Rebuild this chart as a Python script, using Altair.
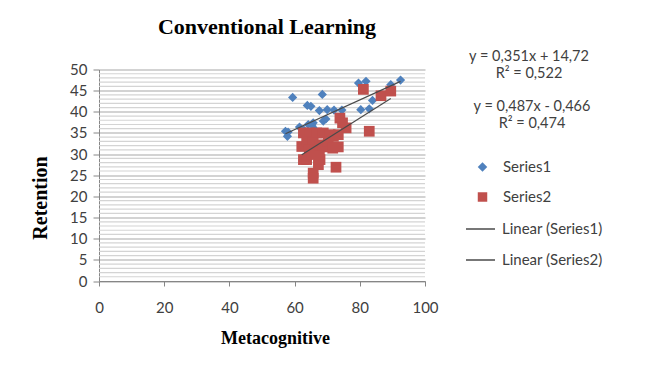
import altair as alt
import pandas as pd

# ---- data ----
s1_x = [57.2, 57.8, 59.4, 61.5, 62.7, 63.9, 65.0, 64.2, 65.7, 67.6, 68.5, 68.8, 69.6,
        70.0, 72.1, 74.5, 67.8, 66.0, 79.6, 81.9, 80.3, 82.9, 83.9, 89.5, 92.5, 65.3, 58.0]
s1_y = [35.4, 34.2, 43.4, 36.4, 35.8, 41.5, 41.3, 37.0, 37.4, 40.3, 44.1, 37.8, 38.3,
        40.5, 40.4, 40.4, 30.5, 36.0, 46.8, 47.2, 40.5, 40.7, 42.7, 46.4, 47.5, 36.9, 35.2]

s2_x = [62.2, 62.7, 63.7, 62.7, 64.7, 66.8, 68.8, 70.9, 63.7, 65.7, 67.8, 64.5, 66.8,
        68.8, 71.9, 70.3, 65.2, 67.8, 65.7, 65.7, 67.6, 67.3, 72.7, 71.7, 73.4, 73.9,
        74.7, 75.8, 73.4, 81.1, 82.9, 86.5, 89.5]
s2_y = [31.8, 28.7, 28.7, 35.0, 35.0, 35.0, 35.0, 34.6, 33.0, 32.6, 32.2, 31.0, 30.6,
        31.7, 34.2, 33.0, 29.9, 28.7, 25.5, 24.3, 29.5, 27.5, 26.9, 31.4, 31.7, 38.5,
        37.4, 36.2, 34.6, 45.3, 35.4, 43.8, 44.9]

point_series = ["Series1", "Series2"]
point_colors = ["#4F81BD", "#C0504D"]
point_shapes = ["diamond", "square"]
line_series = ["Linear (Series1)", "Linear (Series2)"]
line_colors = ["#4a4a4a", "#4a4a4a"]

trend_slopes = [0.351, 0.487]
trend_intercepts = [14.72, -0.466]
equation_texts = ["y = 0,351x + 14,72", "R² = 0,522", "y = 0,487x - 0,466", "R² = 0,474"]

x_ticks = [0, 20, 40, 60, 80, 100]
y_ticks = [0, 5, 10, 15, 20, 25, 30, 35, 40, 45, 50]
minor_grid = [v for v in range(0, 51) if v % 5 != 0]

title_text = "Conventional Learning"
x_title = "Metacognitive"
y_title = "Retention"

# ---- build tables ----
pts = pd.concat([
    pd.DataFrame({"x": s1_x, "y": s1_y, "series": point_series[0]}),
    pd.DataFrame({"x": s2_x, "y": s2_y, "series": point_series[1]}),
], ignore_index=True)

trend_rows = []
for xs, m, b, name in [(s1_x, trend_slopes[0], trend_intercepts[0], line_series[0]),
                       (s2_x, trend_slopes[1], trend_intercepts[1], line_series[1])]:
    for xv in (min(xs), max(xs)):
        trend_rows.append({"x": xv, "y": m * xv + b, "series": name})
trend = pd.DataFrame(trend_rows)

FONT = "Lato"
SERIF = "Liberation Serif"
TXT = "#404040"
FS = 15

pt_legend = alt.Legend(
    title=None, orient="none", legendX=376, legendY=90, padding=0,
    labelFont=FONT, labelFontSize=FS, labelColor=TXT, labelOffset=13,
    symbolSize=90, rowPadding=14, symbolOpacity=1, symbolStrokeWidth=0,
)
ln_legend = alt.Legend(
    title=None, orient="none", legendX=366, legendY=144, padding=0,
    labelFont=FONT, labelFontSize=FS, labelColor=TXT, labelOffset=6,
    symbolSize=841, rowPadding=7, symbolType="stroke", symbolStrokeWidth=1.5,
)

y_axis = alt.Axis(values=y_ticks, title=y_title, grid=True, tickCount=11,
                  gridColor="#a8a8a8", gridWidth=1.2, labelOverlap=False,
                  titleFont=SERIF, titleFontSize=20, titleFontWeight="bold",
                  titleColor="#000000", titleX=-59, titleY=128,
                  titleAngle=270, titleBaseline="middle", titleAlign="center",
                  titleAnchor="start",
                  labelFont=FONT, labelFontSize=FS, labelColor=TXT,
                  labelPadding=6, tickSize=6, tickColor="#868686",
                  domainColor="#868686")
y_scale = alt.Scale(domain=[0, 50], nice=False)

x_axis = alt.Axis(values=x_ticks, grid=False, title=x_title,
                  titleFont=SERIF, titleFontSize=18, titleFontWeight="bold",
                  titleColor="#000000", titleX=176, titleY=57,
                  titleBaseline="middle", titleAnchor="start", titleAlign="center",
                  labelFont=FONT, labelFontSize=FS, labelColor=TXT,
                  labelPadding=14, tickSize=5, tickColor="#868686",
                  domainColor="#868686", labelOverlap=False)
x_scale = alt.Scale(domain=[0, 100], nice=False)

minor = alt.Chart(pd.DataFrame({"g": minor_grid})).mark_rule(
    color="#d4d4d4", strokeWidth=1.2
).encode(y=alt.Y("g:Q", scale=y_scale, axis=y_axis))

points = alt.Chart(pts).mark_point(filled=True, opacity=1).encode(
    x=alt.X("x:Q", scale=x_scale, axis=x_axis),
    y=alt.Y("y:Q", scale=y_scale, axis=y_axis),
    color=alt.Color("series:N", scale=alt.Scale(domain=point_series, range=point_colors), legend=pt_legend),
    shape=alt.Shape("series:N", scale=alt.Scale(domain=point_series, range=point_shapes), legend=pt_legend),
    size=alt.condition("datum.series === 'Series1'", alt.value(85), alt.value(115)),
)

lines = alt.Chart(trend).mark_line(strokeWidth=1.2).encode(
    x=alt.X("x:Q", scale=x_scale, axis=x_axis),
    y=alt.Y("y:Q", scale=y_scale, axis=y_axis),
    stroke=alt.Stroke("series:N", scale=alt.Scale(domain=line_series, range=line_colors), legend=ln_legend),
    detail="series:N",
)

def label(text, px, py, **kw):
    return alt.Chart(pd.DataFrame({"t": [text]})).mark_text(**kw).encode(
        x=alt.value(px), y=alt.value(py), text="t:N")

eq_pos = [(430, -13), (430, 4), (433, 37), (433, 54)]
eq_layers = [label(t, px, py, font=FONT, fontSize=14.5, color=TXT, align="center", baseline="middle")
             for t, (px, py) in zip(equation_texts, eq_pos)]

title = label(title_text, 168, -43, font=SERIF, fontSize=22, fontWeight="bold",
              color="#000000", align="center", baseline="middle")

chart = alt.layer(minor, points, lines, title, *eq_layers).properties(
    width=326, height=211.5,
    autosize=alt.AutoSizeParams(type="none"),
    padding={"left": 91, "top": 61.5, "right": 220, "bottom": 80},
).configure_view(stroke=None).configure_axis(labelFlush=False)

chart.save("out.html", embed_options={"renderer": "svg", "actions": False})
